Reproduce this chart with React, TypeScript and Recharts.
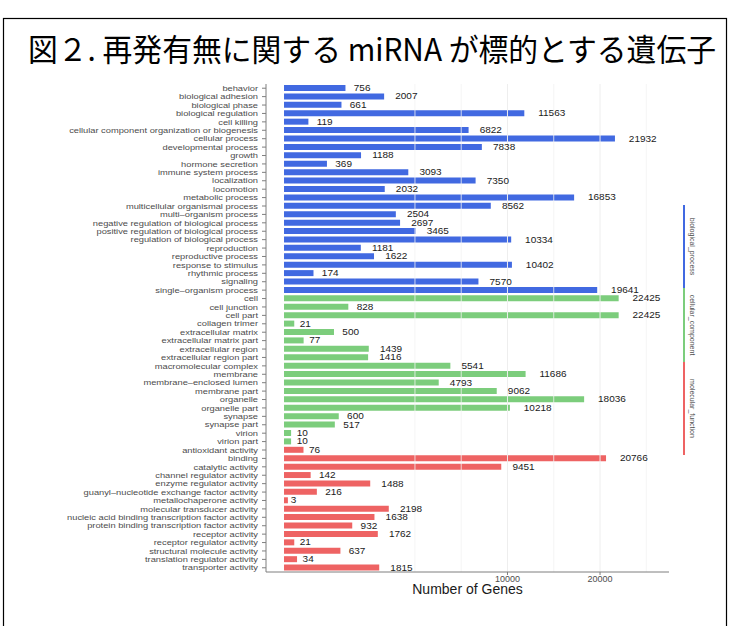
import React from 'react';
import { BarChart, Bar, XAxis, YAxis, Cell, LabelList, ReferenceLine } from 'recharts';

const bpNames = [
  'behavior', 'biological adhesion', 'biological phase', 'biological regulation', 'cell killing',
  'cellular component organization or biogenesis', 'cellular process', 'developmental process', 'growth',
  'hormone secretion', 'immune system process', 'localization', 'locomotion', 'metabolic process',
  'multicellular organismal process', 'multi\u2013organism process', 'negative regulation of biological process',
  'positive regulation of biological process', 'regulation of biological process', 'reproduction',
  'reproductive process', 'response to stimulus', 'rhythmic process', 'signaling', 'single\u2013organism process',
];
const bpValues = [756, 2007, 661, 11563, 119, 6822, 21932, 7838, 1188, 369, 3093, 7350, 2032, 16853, 8562, 2504, 2697, 3465, 10334, 1181, 1622, 10402, 174, 7570, 19641];

const ccNames = [
  'cell', 'cell junction', 'cell part', 'collagen trimer', 'extracellular matrix', 'extracellular matrix part',
  'extracellular region', 'extracellular region part', 'macromolecular complex', 'membrane',
  'membrane\u2013enclosed lumen', 'membrane part', 'organelle', 'organelle part', 'synapse', 'synapse part',
  'virion', 'virion part',
];
const ccValues = [22425, 828, 22425, 21, 500, 77, 1439, 1416, 5541, 11686, 4793, 9062, 18036, 10218, 600, 517, 10, 10];

const mfNames = [
  'antioxidant activity', 'binding', 'catalytic activity', 'channel regulator activity', 'enzyme regulator activity',
  'guanyl\u2013nucleotide exchange factor activity', 'metallochaperone activity', 'molecular transducer activity',
  'nucleic acid binding transcription factor activity', 'protein binding transcription factor activity',
  'receptor activity', 'receptor regulator activity', 'structural molecule activity',
  'translation regulator activity', 'transporter activity',
];
const mfValues = [76, 20766, 9451, 142, 1488, 216, 3, 2198, 1638, 932, 1762, 21, 637, 34, 1815];

const groupLabels = ['biological_process', 'cellular_component', 'molecular_function'];
const groupColors = ['#4169E1', '#7CCD7C', '#EE6363'];
const xTicks = [10000, 20000];
const xDomain = [-65, 29680];
const majorGrid = [10000, 20000];
const minorGrid = [3434, 6288, 14569, 26276];

const title = '図２. 再発有無に関する miRNA が標的とする遺伝子';
const xTitle = 'Number of Genes';

const data = [
  ...bpNames.map((n, i) => ({ name: n, value: bpValues[i], g: 0 })),
  ...ccNames.map((n, i) => ({ name: n, value: ccValues[i], g: 1 })),
  ...mfNames.map((n, i) => ({ name: n, value: mfValues[i], g: 2 })),
];

const FONT = 'Liberation Sans, Arial, sans-serif';

const ValueLabel = (props: any) => {
  const { x, y, width, height, value } = props;
  const s = String(value);
  const fs = 10;
  const w = s.length * fs * 0.556;
  const tx = Number(x) + Number(width) + w * 0.5;
  const ty = Number(y) + Number(height) / 2;
  return (
    <text transform={`translate(${tx} ${ty}) scale(1 0.85)`} dy="0.36em"
      fontSize={fs} fill="#1a1a1a" style={{ fontFamily: FONT }}>{s}</text>
  );
};

const CatTick = (props: any) => {
  const { x, y, payload } = props;
  return (
    <text transform={`translate(${x} ${y}) scale(1 0.8)`} dy="0.36em" textAnchor="end" fontSize={9.3}
      fill="#4d4d4d" style={{ fontFamily: FONT }}>
      {payload.value}
    </text>
  );
};

const NumTick = (props: any) => {
  const { x, y, payload } = props;
  return (
    <text x={x} y={y} dy="0.72em" textAnchor="middle" fontSize={9} fill="#4d4d4d" style={{ fontFamily: FONT }}>
      {payload.value}
    </text>
  );
};

export default function App() {
  const W = 730;
  const H = 626;
  return (
    <div style={{ position: 'absolute', left: 0, top: 0, width: W, height: H, background: '#fff', overflow: 'hidden', fontFamily: FONT }}>
      <svg width={W} height={H} style={{ position: 'absolute', left: 0, top: 0 }}>
        <rect x={3.5} y={18.5} width={723} height={700} fill="none" stroke="#000" strokeWidth={1.2} />
        <text x={28} y={47} dominantBaseline="central" fontSize={31} textLength={688} lengthAdjust="spacingAndGlyphs"
          style={{ fontFamily: '"Noto Sans CJK JP", sans-serif' }} fill="#000">{title}</text>
      </svg>
      <div style={{ position: 'absolute', left: 0, top: 0 }}>
        <BarChart width={W} height={H} data={data} layout="vertical"
          margin={{ top: 84, right: 61, bottom: 30, left: 0 }} barCategoryGap="12%">
          <XAxis type="number" dataKey="value" scale="sqrt" domain={xDomain} allowDataOverflow ticks={xTicks}
            tickSize={3} tickMargin={1} height={24} axisLine={{ stroke: '#7f7f7f' }} tickLine={{ stroke: '#7f7f7f' }}
            tick={<NumTick />} interval={0}
            label={{ value: xTitle, position: 'insideBottom', offset: 2, fontSize: 14, fill: '#1a1a1a', style: { fontFamily: FONT } }} />
          <XAxis xAxisId="top" orientation="top" type="number" scale="sqrt" domain={xDomain} allowDataOverflow
            tick={false} tickLine={false} height={0} axisLine={{ stroke: '#7f7f7f' }} />
          <YAxis type="category" dataKey="name" width={266} interval={0} tickSize={4} tickMargin={4}
            axisLine={{ stroke: '#7f7f7f' }} tickLine={{ stroke: '#7f7f7f' }} tick={<CatTick />} />
          <YAxis yAxisId="right" orientation="right" type="category" dataKey="name" width={0}
            tick={false} tickLine={false} axisLine={{ stroke: '#7f7f7f' }} />
          {minorGrid.map((v) => (
            <ReferenceLine key={'mi' + v} x={v} stroke="#f2f2f2" strokeWidth={0.8} />
          ))}
          {majorGrid.map((v) => (
            <ReferenceLine key={'ma' + v} x={v} stroke="#eeeeee" strokeWidth={1} />
          ))}
          <Bar dataKey="value" isAnimationActive={false}>
            {data.map((d, i) => (
              <Cell key={i} fill={groupColors[d.g]} />
            ))}
            <LabelList dataKey="value" content={ValueLabel} />
          </Bar>
        </BarChart>
      </div>
      <svg width={W} height={H} style={{ position: 'absolute', left: 0, top: 0, pointerEvents: 'none' }}>
        {groupLabels.map((g, i) => {
          const segs = [[205, 288], [288, 362], [362, 455]];
          const [a, b] = segs[i];
          const mid = (a + b) / 2;
          return (
            <g key={g}>
              <line x1={684} x2={684} y1={a} y2={b} stroke={groupColors[i]} strokeWidth={2} />
              <text x={689} y={mid} transform={`rotate(90 689 ${mid})`} textAnchor="middle" dy="-0.1em"
                fontSize={7} fill="#4d4d4d" style={{ fontFamily: FONT }}>{g}</text>
            </g>
          );
        })}
      </svg>
    </div>
  );
}
